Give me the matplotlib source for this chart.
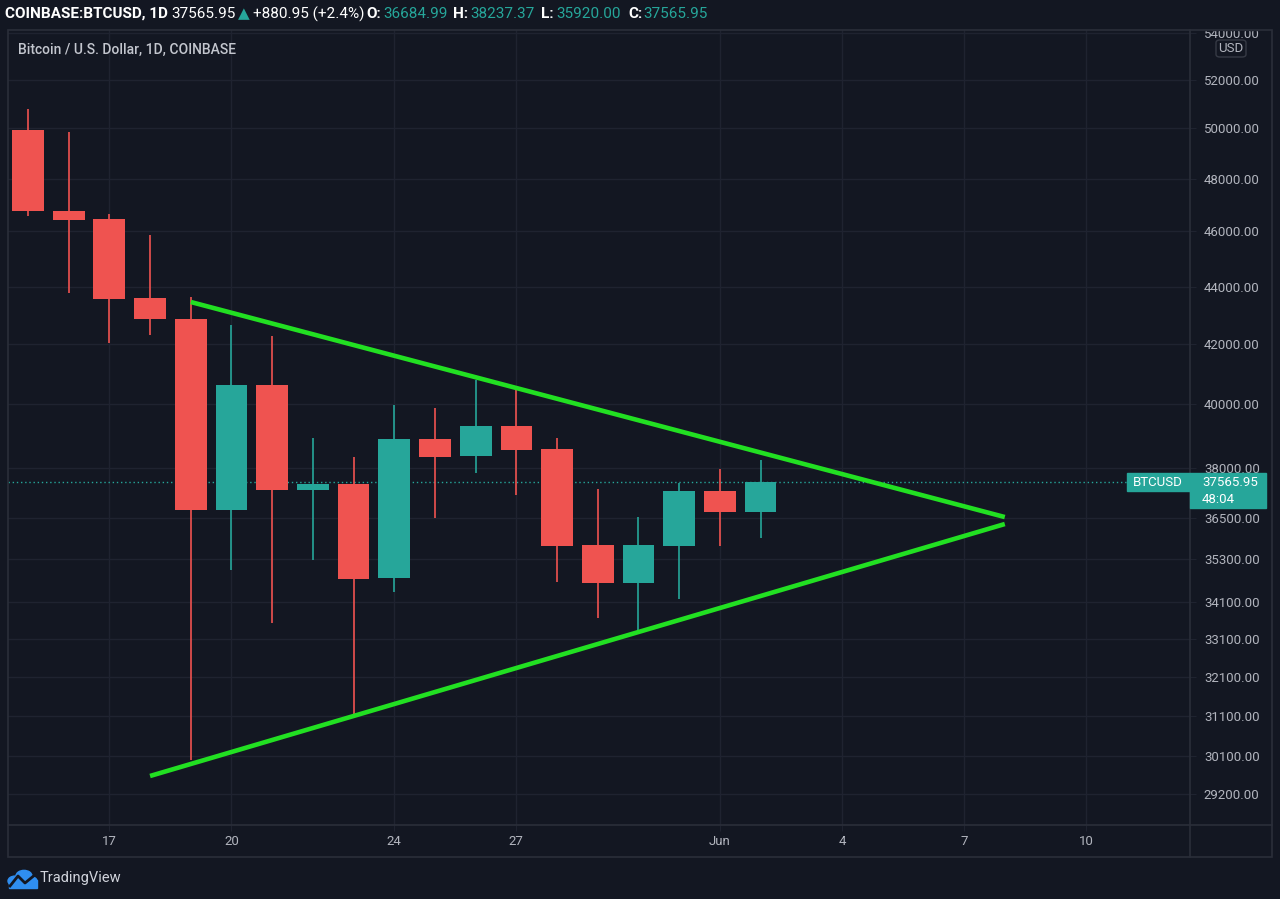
import matplotlib
matplotlib.use("Agg")
import matplotlib.pyplot as plt
from matplotlib.patches import Rectangle, FancyBboxPatch, Circle
from matplotlib.lines import Line2D
from matplotlib.ticker import FixedLocator, NullLocator

# daily candles, 15 May .. 2 Jun (index 0 = 15 May)
days = list(range(19))
opens = [49930, 46767, 46466, 43590, 42860, 36730, 40635, 37329, 37511, 34767,
         38900, 38370, 39310, 38586, 35710, 34627, 35678, 37299, 36684.99]
highs = [50782, 49850, 46654, 45869, 43629, 42653, 42276, 38931, 38339, 39984,
         39887, 40800, 40501, 38931, 37359, 36523, 37541, 37968, 38237.37]
lows = [46579, 43770, 42037, 42310, 30013, 34992, 33527, 35276, 31124, 34376,
        36494, 37846, 37179, 34655, 33663, 33338, 34182, 35678, 35920.00]
closes = [46767, 46429, 43558, 42860, 36730, 40635, 37329, 37511, 34739, 38900,
          38339, 39310, 38555, 35678, 34627, 35710, 37299, 36685, 37565.95]

# triangle trend lines (day index, price)
upper_x = [4, 24]
upper_y = [43453, 36523]
lower_x = [3, 24]
lower_y = [29629, 36318]

price_ticks = [54000, 52000, 50000, 48000, 46000, 44000, 42000, 40000, 38000,
               36500, 35300, 34100, 33100, 32100, 31100, 30100, 29200]
date_ticks = [2, 5, 9, 12, 17, 20, 23, 26]
date_labels = ["17", "20", "24", "27", "Jun", "4", "7", "10"]

BG = "#131722"
GRID = "#1f2330"
BORDER = "#2a2e39"
TXT = "#b2b5be"
UP = "#26a69a"
DOWN = "#ef5350"
TREND = "#22e022"

W, H = 1280, 899
plt.rcParams["font.family"] = ["Roboto", "DejaVu Sans"]

fig = plt.figure(figsize=(W / 100, H / 100), dpi=100, facecolor=BG)


def fx(x):
    return x / W


def fy(y):
    return 1 - y / H


ax = fig.add_axes([fx(8), fy(825), (1190 - 8) / W, (825 - 30) / H])
ax.set_facecolor(BG)
ax.set_yscale("log")
ax.set_ylim(28479, 54131)
ax.set_xlim(-0.49, 28.55)
for s in ax.spines.values():
    s.set_visible(False)

ax.yaxis.tick_right()
ax.yaxis.set_major_locator(FixedLocator(price_ticks))
ax.yaxis.set_minor_locator(NullLocator())
ax.set_yticklabels(["%.2f" % p for p in price_ticks])
ax.set_xticks(date_ticks)
ax.set_xticklabels(date_labels)
ax.tick_params(axis="y", colors=GRID, labelcolor=TXT, labelsize=9.5, length=4, pad=6)
ax.tick_params(axis="x", colors=GRID, labelcolor=TXT, labelsize=9.5, length=4, pad=3)
ax.grid(True, color=GRID, lw=1)
ax.set_axisbelow(True)

# candles
for d, o, h, l, c in zip(days, opens, highs, lows, closes):
    col = UP if c >= o else DOWN
    ax.vlines(d, l, h, color=col, lw=1.2, zorder=2)
    ax.bar(d, abs(c - o), bottom=min(o, c), width=0.78, color=col, zorder=3)

ax.plot(upper_x, upper_y, color=TREND, lw=3.3, solid_capstyle="butt", zorder=4)
ax.plot(lower_x, lower_y, color=TREND, lw=3.3, solid_capstyle="butt", zorder=4)

last = closes[-1]
ax.axhline(last, xmin=0, xmax=(1127 - 8) / 1182, color=UP, lw=1,
           ls=(0, (1, 2)), zorder=1)

# last price labels on the axis
fig.canvas.draw()
ypx = H - ax.transData.transform((0, last))[1]
fig.patches.append(Rectangle((fx(1127), fy(ypx + 9)), (1190 - 1127) / W, 18 / H,
                             transform=fig.transFigure, color=UP, zorder=6))
fig.patches.append(Rectangle((fx(1190), fy(ypx + 26)), (1266 - 1190) / W, 35 / H,
                             transform=fig.transFigure, color=UP, zorder=6))
fig.text(fx(1158), fy(ypx), "BTCUSD", color="white", fontsize=9.5,
         ha="center", va="center", zorder=7)
fig.text(fx(1202), fy(ypx), "%.2f" % last, color="white", fontsize=9.5,
         ha="left", va="center", zorder=7)
fig.text(fx(1202), fy(ypx + 17), "48:04", color="white", fontsize=9.5,
         ha="left", va="center", zorder=7)

# cover the clipped top label, then the frame
fig.patches.append(Rectangle((fx(1190), fy(30)), 90 / W, 30 / H,
                             transform=fig.transFigure, color=BG, zorder=5))
fig.patches.append(Rectangle((fx(8), fy(857)), (1272 - 8) / W, (857 - 30) / H,
                             transform=fig.transFigure, fill=False, ec=BORDER,
                             lw=1.2, zorder=6))
fig.lines.append(Line2D([fx(1190), fx(1190)], [fy(30), fy(857)],
                        transform=fig.transFigure, color=BORDER, lw=1.2, zorder=6))
fig.lines.append(Line2D([fx(8), fx(1272)], [fy(825), fy(825)],
                        transform=fig.transFigure, color=BORDER, lw=1.2, zorder=6))

# USD badge
fig.patches.append(FancyBboxPatch((fx(1216), fy(57)), 30 / W, 17 / H,
                                  boxstyle="round,pad=0,rounding_size=0.003",
                                  transform=fig.transFigure, fc=BG, ec="#363a45",
                                  lw=1, zorder=6))
fig.text(fx(1231), fy(48), "USD", color=TXT, fontsize=9.5, ha="center",
         va="center", zorder=7)

fig.text(fx(18), fy(50), "Bitcoin / U.S. Dollar, 1D, COINBASE", color="#c3c6ce",
         fontsize=10, fontweight="medium", ha="left", va="center", zorder=7)

# header
hy = fy(14)
header = [
    (5, "COINBASE:BTCUSD, 1D", "white", "bold"),
    (171, "37565.95", "white", "normal"),
    (238, "\u25b2", UP, "normal"),
    (253, "+880.95 (+2.4%)", "white", "normal"),
    (366, "O:", "white", "bold"),
    (383, "36684.99", UP, "normal"),
    (453, "H:", "white", "bold"),
    (470, "38237.37", UP, "normal"),
    (541, "L:", "white", "bold"),
    (556, "35920.00", UP, "normal"),
    (628, "C:", "white", "bold"),
    (643, "37565.95", UP, "normal"),
]
for x, s, col, wt in header:
    fig.text(fx(x), hy, s, color=col, fontsize=11, fontweight=wt,
             ha="left", va="center", zorder=7)

# TradingView logo
logo_blue = "#2f8ef0"
for cx, cy, r in [(15, 881, 7), (24, 876, 8), (31, 881, 6)]:
    fig.patches.append(Circle((fx(cx), fy(cy)), r / W, transform=fig.transFigure,
                              color=logo_blue, zorder=6))
fig.patches.append(Rectangle((fx(9), fy(888)), 28 / W, 8 / H,
                             transform=fig.transFigure, color=logo_blue, zorder=6))
fig.lines.append(Line2D([fx(10), fx(18), fx(25), fx(36)],
                        [fy(886), fy(876), fy(883), fy(874)],
                        transform=fig.transFigure, color=BG, lw=2, zorder=7))
fig.text(fx(40), fy(878), "TradingView", color="#d1d4dc", fontsize=10.5,
         ha="left", va="center", zorder=7)

fig.savefig("out.png", dpi=100, facecolor=BG)
